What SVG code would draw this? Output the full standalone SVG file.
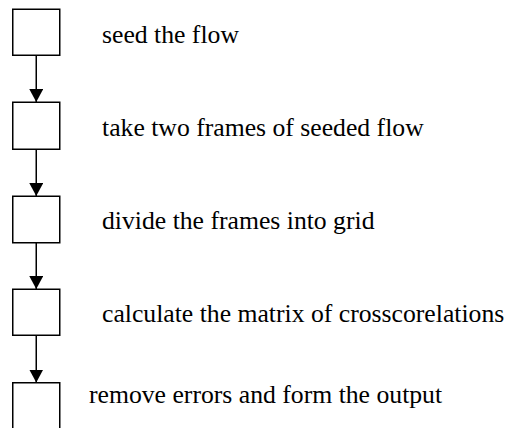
<svg xmlns="http://www.w3.org/2000/svg" width="511" height="428" viewBox="0 0 511 428">
<defs>
<marker id="ah" viewBox="0 0 13 14" refX="13" refY="7" markerWidth="13" markerHeight="14" markerUnits="userSpaceOnUse" orient="auto">
<path d="M0,0 L13,7 L0,14 z" fill="#000"/>
</marker>
</defs>
<rect width="511" height="428" fill="#fff"/>
<g fill="#fff" stroke="#000" stroke-width="1.5">
<rect id="b1" x="12.75" y="9.25" width="47" height="46"/>
<rect id="b2" x="12.75" y="102.25" width="47" height="47"/>
<rect id="b3" x="12.75" y="196.25" width="47" height="46.5"/>
<rect id="b4" x="12.75" y="289.25" width="47" height="46"/>
<rect id="b5" x="12.75" y="382.75" width="47" height="50"/>
</g>
<text id="n1" font-family="Liberation Serif" font-size="25.7" x="102" y="42.5">seed the flow</text>
<text id="n2" font-family="Liberation Serif" font-size="25.7" x="102" y="135.5">take two frames of seeded flow</text>
<text id="n3" font-family="Liberation Serif" font-size="25.7" x="102" y="228.5">divide the frames into grid</text>
<text id="n4" font-family="Liberation Serif" font-size="25.7" x="102" y="321.5">calculate the matrix of crosscorelations</text>
<text id="n5" font-family="Liberation Serif" font-size="25.7" x="89" y="403">remove errors and form the output</text>
<g id="connectors" stroke="#000" stroke-width="1.5">
<line x1="36.25" y1="55.25" x2="36.25" y2="102" marker-end="url(#ah)"/>
<line x1="36.25" y1="149.25" x2="36.25" y2="196" marker-end="url(#ah)"/>
<line x1="36.25" y1="242.75" x2="36.25" y2="289" marker-end="url(#ah)"/>
<line x1="36.25" y1="335.25" x2="36.25" y2="382.5" marker-end="url(#ah)"/>
</g>
</svg>
